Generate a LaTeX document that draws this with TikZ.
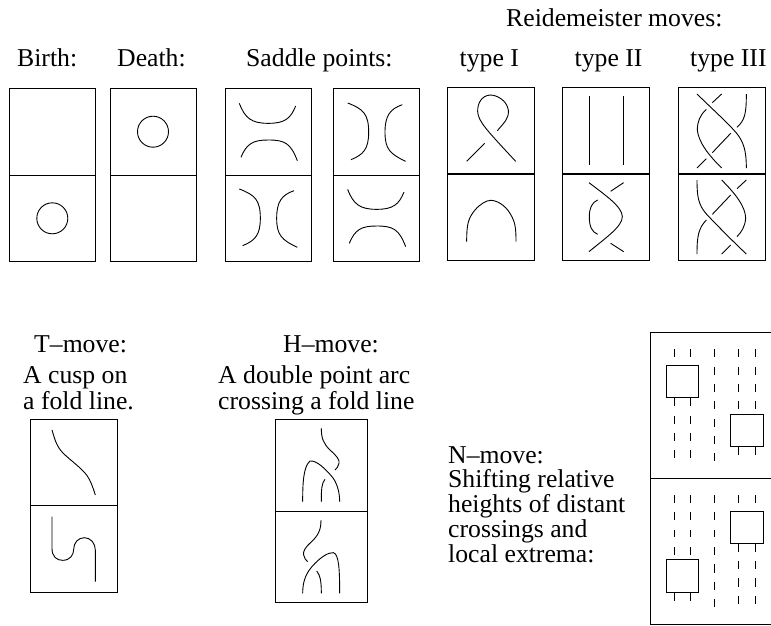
\documentclass[tikz,border=0pt]{standalone}
\usepackage{fontspec}
\setmainfont{Liberation Serif}
\tikzset{
  frame/.style={draw=black,line width=0.9pt},
  thickmid/.style={draw=black,line width=1.5pt},
  curve/.style={draw=black,line width=0.9pt,line cap=butt},
  zz/.style={x=0.33333pt,y=-0.33333pt},
  labl/.style={inner sep=0pt,font=\fontsize{25.7pt}{28pt}\selectfont,anchor=base west}
}
\newcommand{\panel}[4]{\draw[frame] (#1,#2) rectangle (#3,#4); \draw[frame] (#1,{(#2+#4)/2}) -- (#3,{(#2+#4)/2});}
\newcommand{\sadh}[2]{\begin{scope}[shift={(220,80)},zz,shift={(#1,#2)}]
\draw[curve] (58,70) .. controls (75,115) and (95,130) .. (145,130) .. controls (195,130) and (212,115) .. (227,78);
\draw[curve] (63,232) .. controls (80,190) and (100,180) .. (145,180) .. controls (195,180) and (212,190) .. (232,242);
\end{scope}}
\newcommand{\sadv}[2]{\begin{scope}[shift={(220,80)},zz,shift={(#1,#2)}]
\draw[curve] (58,327) .. controls (105,345) and (121,360) .. (121,415) .. controls (121,465) and (105,482) .. (68,497);
\draw[curve] (222,332) .. controls (185,345) and (170,365) .. (170,415) .. controls (170,465) and (185,480) .. (232,502);
\end{scope}}
\newcommand{\dashes}[2]{\foreach \a/\b in {#2} {\draw[curve] (#1,\a) -- (#1,\b);}}
\begin{document}
\begin{tikzpicture}[x=1pt,y=-1pt]
\useasboundingbox (0,0) rectangle (771,625);
% labels
\node[labl] (tReid) at (506,26) {Reidemeister moves:};
\node[labl] (tBirth) at (17,66) {Birth:};
\node[labl] (tDeath) at (117,66) {Death:};
\node[labl] (tSad) at (246,66) {Saddle points:};
\node[labl] (tI) at (459.5,66) {type I};
\node[labl] (tII) at (574.5,66) {type II};
\node[labl] (tIII) at (690,66) {type III};
\node[labl] (tT) at (34,352) {T–move:};
\node[labl] (tC1) at (23,383.3) {A cusp on};
\node[labl] (tC2) at (23,409) {a fold line.};
\node[labl] (tH) at (283,352) {H–move:};
\node[labl] (tD1) at (218,383.3) {A double point arc};
\node[labl] (tD2) at (218,409) {crossing a fold line};
\node[labl] (tN1) at (448,463.3) {N–move:};
\node[labl] (tN2) at (448,487.7) {Shifting relative};
\node[labl] (tN3) at (448,512.7) {heights of distant};
\node[labl] (tN4) at (448,537) {crossings and};
\node[labl] (tN5) at (448,562.7) {local extrema:};
% panels top row
\panel{9}{88.3}{95.7}{261.7}
\panel{110}{88.3}{196.3}{261.7}
\panel{225}{88.3}{311.7}{261.7}
\panel{333.3}{88.3}{419.7}{261.7}
\panel{447.7}{87.3}{534.3}{260.3}
\panel{562.7}{87.3}{649.3}{260.3}
\panel{678.3}{87.3}{765}{260.3}
\draw[thickmid] (447.7,174) -- (534.3,174);
\draw[thickmid] (562.7,174) -- (649.3,174);
\draw[thickmid] (678.3,174) -- (765,174);
% circles
\draw[curve] (52.3,218.3) circle (15.5);
\draw[curve] (153,131.7) circle (15.5);
% saddles
\sadh{0}{0}
\sadv{0}{0}
\sadv{325}{-258}
\sadh{325}{258}
% type I
\begin{scope}[shift={(440,80)},zz]
\draw[curve] (172,152) .. controls (195,125) and (207,115) .. (205,90) .. controls (200,60) and (170,45) .. (150,45) .. controls (125,47) and (112,70) .. (113,95) .. controls (115,125) and (140,150) .. (227,244);
\draw[curve] (134,190) -- (80,244);
\draw[curve] (80,485) .. controls (80,430) and (85,415) .. (105,390) .. controls (120,372) and (140,361) .. (152,361) .. controls (170,361) and (195,375) .. (210,400) .. controls (225,425) and (228,440) .. (228,485);
\end{scope}
% type II and III
\begin{scope}[shift={(555,80)},zz]
\draw[curve] (102,48) -- (102,256);
\draw[curve] (206,48) -- (206,256);
\draw[curve] (102,308) .. controls (150,345) and (202,380) .. (202,410) .. controls (202,440) and (150,475) .. (102,515);
\draw[curve] (167,334) -- (206,308);
\draw[curve] (167,490) -- (206,515);
\draw[curve] (128,360) .. controls (110,368) and (103,385) .. (103,410) .. controls (103,440) and (110,455) .. (128,463);
\draw[curve] (426,42) .. controls (480,95) and (520,130) .. (545,160) .. controls (565,185) and (574,210) .. (574,264);
\draw[curve] (500,42) -- (472,68);
\draw[curve] (454,88) .. controls (435,105) and (427,125) .. (427,150) .. controls (430,185) and (460,225) .. (500,264);
\draw[curve] (574,42) .. controls (574,100) and (570,120) .. (546,142);
\draw[curve] (527,160) -- (472,218);
\draw[curve] (454,236) -- (426,264);
\draw[curve] (426,300) .. controls (426,350) and (430,375) .. (455,403) .. controls (490,440) and (540,490) .. (574,522);
\draw[curve] (500,300) .. controls (540,340) and (572,380) .. (572,415) .. controls (570,440) and (560,455) .. (546,470);
\draw[curve] (574,300) -- (546,326);
\draw[curve] (527,345) -- (472,403);
\draw[curve] (454,420) .. controls (430,445) and (426,470) .. (426,522);
\draw[curve] (527,495) -- (500,522);
\end{scope}
% T-move
\panel{30.3}{419.3}{117}{592}
\begin{scope}[shift={(20,410)},zz]
\draw[curve] (96,60) .. controls (105,90) and (110,110) .. (130,130) .. controls (150,150) and (180,170) .. (200,195) .. controls (212,212) and (218,230) .. (226,255);
\draw[curve] (96,320) -- (96,415) .. controls (96,440) and (110,451) .. (128,451) .. controls (150,451) and (161,435) .. (161,418) .. controls (161,398) and (175,383) .. (193,383) .. controls (212,383) and (226,400) .. (226,420) -- (226,515);
\end{scope}
% H-move
\panel{275.3}{419.3}{367}{602.7}
\begin{scope}[shift={(265,410)},zz]
\draw[curve] (169,55) .. controls (169,85) and (175,100) .. (195,120) .. controls (215,138) and (225,150) .. (222,160) .. controls (220,170) and (215,175) .. (210,180);
\draw[curve] (113,275) .. controls (113,220) and (115,170) .. (135,153) .. controls (155,150) and (185,180) .. (205,205) .. controls (218,225) and (224,250) .. (224,275);
\draw[curve] (180,208) .. controls (170,220) and (169,235) .. (169,275);
\draw[curve] (168,330) .. controls (168,360) and (160,375) .. (140,395) .. controls (120,412) and (113,425) .. (116,435) .. controls (118,445) and (122,450) .. (128,455);
\draw[curve] (113,550) .. controls (113,510) and (125,485) .. (150,460) .. controls (170,440) and (190,427) .. (205,428) .. controls (222,432) and (224,480) .. (224,550);
\draw[curve] (155,483) .. controls (165,495) and (169,510) .. (169,550);
\end{scope}
% N-move
\draw[frame] (771,332.7) -- (650,332.7) -- (650,624.3) -- (771,624.3);
\draw[thickmid] (650,478.3) -- (771,478.3);
\begin{scope}[shift={(631,340)},zz]
\draw[frame] (105,76) rectangle (203,173);
\draw[frame] (299,222) rectangle (397,319);
\foreach \x in {129,178} {\dashes{\x}{28/52,173/198,227/251,279/302,330/354}}
\dashes{251}{28/52,80/104,132/156,184/208,236/260,288/312,340/364}
\foreach \x in {323,372} {\dashes{\x}{28/52,80/104,132/156,184/208,319/344}}
\end{scope}
\begin{scope}[shift={(631,480)},zz]
\draw[frame] (105,239) rectangle (203,337);
\draw[frame] (299,93) rectangle (397,190);
\foreach \x in {129,178} {\dashes{\x}{45/70,97/120,149/172,201/226,337/362}}
\dashes{251}{45/70,97/120,149/172,201/226,253/278,305/330,357/382}
\foreach \x in {323,372} {\dashes{\x}{45/70,190/215,243/268,295/320,347/372}}
\end{scope}
\end{tikzpicture}
\end{document}
